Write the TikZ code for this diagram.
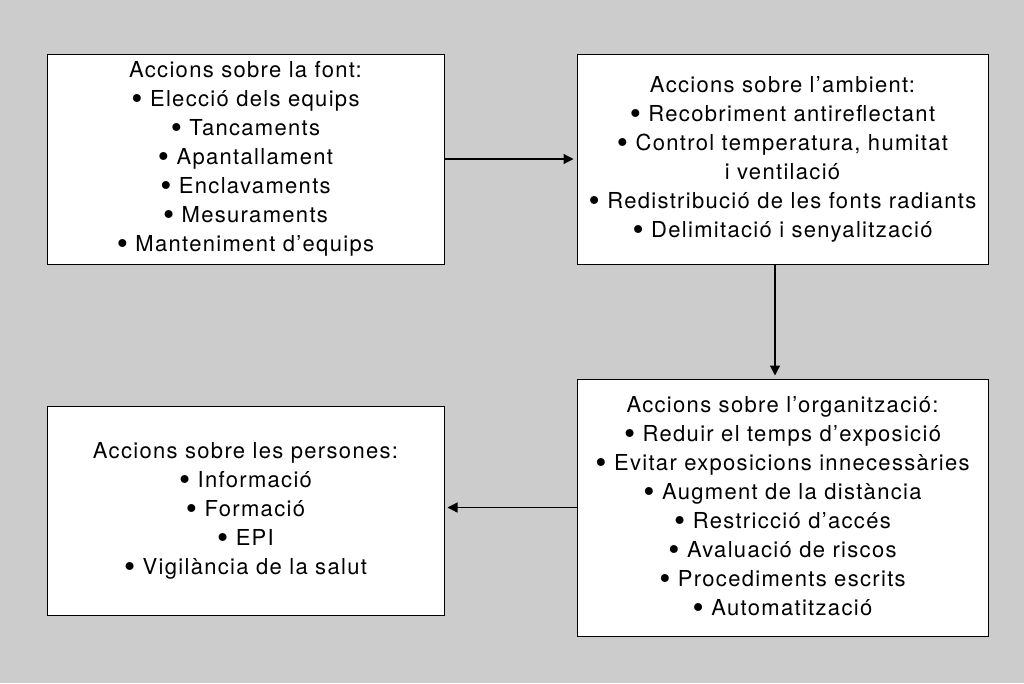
\documentclass[tikz,border=0pt]{standalone}
\usepackage{fontspec}
\setmainfont{TeX Gyre Heros}[LetterSpace=6]
\usetikzlibrary{arrows.meta,positioning}
\definecolor{bggrey}{RGB}{204,204,204}
\newcommand{\accbul}{\raisebox{-3pt}{\scalebox{1.45}{•}}}
\tikzset{
  accbox/.style={draw=black, line width=1pt, fill=white, align=center,
    inner sep=0pt, font=\fontsize{22}{29}\selectfont},
  accarrow/.style={-{Triangle[length=10pt,width=10pt]}, line width=1.2pt, shorten >=3pt}
}
\begin{document}
\begin{tikzpicture}[x=1pt,y=1pt]
        \fill[bggrey] (0,0) rectangle (1024,-683);
        \useasboundingbox (0,0) rectangle (1024,-683);

        \node[accbox, minimum width=397pt, minimum height=210pt] (font) at (245.5,-159)
          {Accions sobre la font:\\ \accbul\ Elecció dels equips\\ \accbul\ Tancaments\\ \accbul\ Apantallament\\
           \accbul\ Enclavaments\\ \accbul\ Mesuraments\\ \accbul\ Manteniment d’equips};
        \node[accbox, minimum width=411pt, minimum height=210pt] (ambient) at (782.5,-159)
          {Accions sobre l’ambient:\\ \accbul\ Recobriment antireflectant\\ \accbul\ Control temperatura, humitat\\
           i ventilació\\ \accbul\ Redistribució de les fonts radiants\\ \accbul\ Delimitació i senyalització};
        \node[accbox, minimum width=411pt, minimum height=257pt] (organitzacio) at (782.5,-507.5)
          {Accions sobre l’organització:\\ \accbul\ Reduir el temps d’exposició\\ \accbul\ Evitar exposicions innecessàries\\
           \accbul\ Augment de la distància\\ \accbul\ Restricció d’accés\\ \accbul\ Avaluació de riscos\\
           \accbul\ Procediments escrits\\ \accbul\ Automatització};
        \node[accbox, minimum width=397pt, minimum height=209pt] (persones) at (245.5,-510.5)
          {Accions sobre les persones:\\ \accbul\ Informació\\ \accbul\ Formació\\ \accbul\ EPI\\ \accbul\ Vigilància de la salut};

        \draw[accarrow] (font.east) -- (ambient.west);
        \draw[accarrow] ([xshift=-7.5pt]ambient.south) -- ([xshift=-7.5pt]organitzacio.north);
        \draw[accarrow] (organitzacio.west) -- (organitzacio.west -| persones.east);
      \end{tikzpicture}
\end{document}
